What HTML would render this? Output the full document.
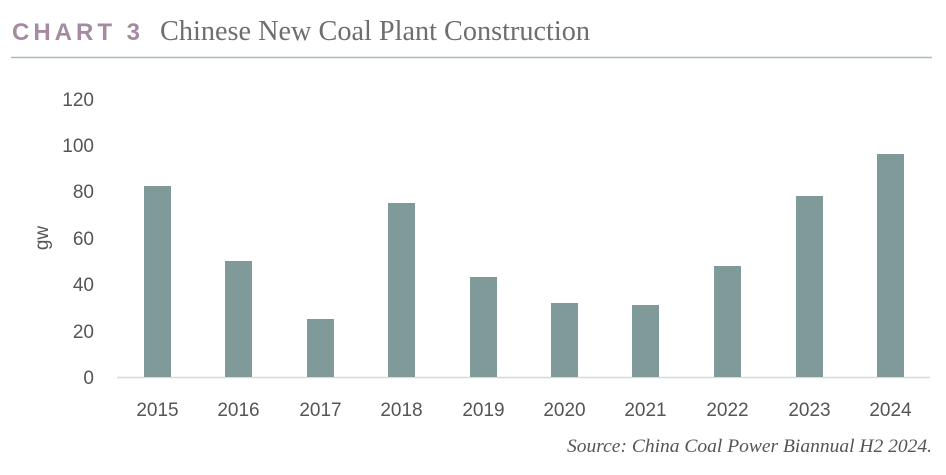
<!DOCTYPE html>
<html><head><style>
body{margin:0;width:946px;height:470px;background:#fff;overflow:hidden}
</style></head><body>
<svg width="946" height="470" xmlns="http://www.w3.org/2000/svg">
<text x="12" y="40" font-family="Liberation Sans, sans-serif" font-weight="bold" font-size="24" letter-spacing="4" fill="#a48aa3">CHART 3</text>
<text x="160" y="40" font-family="Liberation Serif, serif" font-size="28" fill="#6e6e6e" textLength="430" lengthAdjust="spacingAndGlyphs">Chinese New Coal Plant Construction</text>
<line x1="11" y1="57.5" x2="932" y2="57.5" stroke="#a8bcbc" stroke-width="1.5"/>
<g font-family="Liberation Sans, sans-serif" font-size="19" fill="#555" text-anchor="end">
<text x="94" y="384">0</text>
<text x="94" y="338">20</text>
<text x="94" y="291">40</text>
<text x="94" y="245">60</text>
<text x="94" y="198">80</text>
<text x="94" y="152">100</text>
<text x="94" y="106">120</text>
</g>
<text transform="translate(48,238) rotate(-90)" font-family="Liberation Sans, sans-serif" font-size="19" fill="#555" text-anchor="middle">gw</text>
<line x1="117" y1="377.5" x2="930" y2="377.5" stroke="#d9d9d9" stroke-width="1.5"/>
<g fill="#7f9a99">
<rect x="144" y="186" width="27" height="191"/>
<rect x="225" y="261" width="27" height="116"/>
<rect x="307" y="319" width="27" height="58"/>
<rect x="388" y="203" width="27" height="174"/>
<rect x="470" y="277" width="27" height="100"/>
<rect x="551" y="303" width="27" height="74"/>
<rect x="632" y="305" width="27" height="72"/>
<rect x="714" y="266" width="27" height="111"/>
<rect x="796" y="196" width="27" height="181"/>
<rect x="877" y="154" width="27" height="223"/>
</g>
<g font-family="Liberation Sans, sans-serif" font-size="19" fill="#555" text-anchor="middle">
<text x="157.5" y="416">2015</text>
<text x="238.5" y="416">2016</text>
<text x="320.5" y="416">2017</text>
<text x="401.5" y="416">2018</text>
<text x="483.5" y="416">2019</text>
<text x="564.5" y="416">2020</text>
<text x="645.5" y="416">2021</text>
<text x="727.5" y="416">2022</text>
<text x="809.5" y="416">2023</text>
<text x="890.5" y="416">2024</text>
</g>
<text x="567" y="452" font-family="Liberation Serif, serif" font-style="italic" font-size="19" fill="#555" textLength="365" lengthAdjust="spacingAndGlyphs">Source: China Coal Power Biannual H2 2024.</text>
</svg>
</body></html>
